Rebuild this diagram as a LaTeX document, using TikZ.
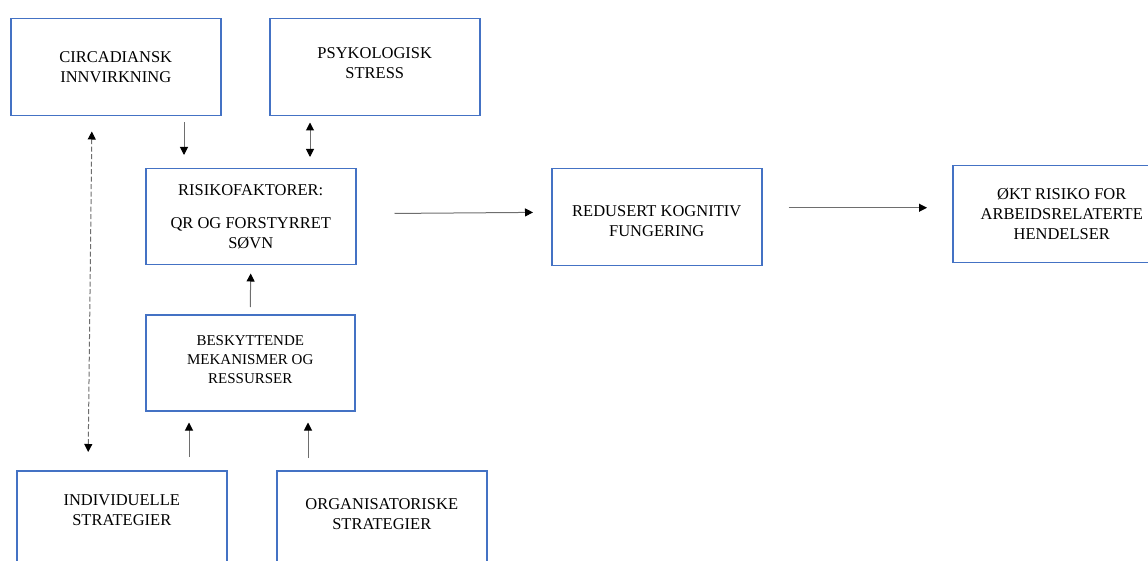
\documentclass[tikz,border=0pt]{standalone}
\usepackage{fontspec}
\setmainfont{Liberation Serif}
\usetikzlibrary{arrows.meta}
\definecolor{boxline}{HTML}{4472C4}
\definecolor{arrline}{HTML}{6E6E6E}

\tikzset{
    box/.style={draw=boxline, line width=1.5pt, inner sep=0pt, align=center,
        minimum width=210, minimum height=97, anchor=north west,
        font=\fontsize{16.5}{20}\selectfont},
    smallbox/.style={box, font=\fontsize{15}{19}\selectfont},
    arr/.style={draw=arrline, line width=1pt,
        -{Triangle[length=8pt,width=8pt,color=black]}},
    darr/.style={arr, {Triangle[length=8pt,width=8pt,color=black]}-{Triangle[length=8pt,width=8pt,color=black]}},
}

\begin{document}
\begin{tikzpicture}[x=1pt, y=-1pt]
        \useasboundingbox (0,0) rectangle (1148,561);
        \clip (0,0) rectangle (1148,561);
        % Nodes
        \node[box] (circ) at (10,18) {CIRCADIANSK\\INNVIRKNING};
        \node[box, text depth=9pt] (psyk) at (269,18) {PSYKOLOGISK\\STRESS};
        \node[box, minimum height=96] (risk) at (145,168) {RISIKOFAKTORER:\\[13pt] QR OG FORSTYRRET\\SØVN};
        \node[smallbox, minimum width=209, minimum height=96, text depth=6pt] (besk) at (145,314) {BESKYTTENDE\\MEKANISMER OG\\RESSURSER};
        \node[box, minimum width=218] (okt) at (952,165) {ØKT RISIKO FOR\\ARBEIDSRELATERTE\\HENDELSER};
        \node[box] (red) at (551,168) {\rule{0pt}{19.5pt}REDUSERT KOGNITIV\\FUNGERING};
        \node[box, text depth=19pt] (indiv) at (16,470) {INDIVIDUELLE\\STRATEGIER};
        \node[box, text depth=11pt] (organ) at (276,470) {ORGANISATORISKE\\STRATEGIER};
        % Arrows
        \path[arr, shorten <=6pt, shorten >=13pt] ([xshift=174]circ.south west) -- ([xshift=174]circ.south west |- risk.north);
        \path[darr, shorten <=6pt, shorten >=11pt] ([xshift=41]psyk.south west) -- ([xshift=41]psyk.south west |- risk.north);
        \path[darr, dash pattern=on 5pt off 2.5pt, shorten <=15pt, shorten >=18pt] ([xshift=82]circ.south west) -- ([xshift=72]indiv.north west);
        \path[arr, shorten <=7pt, shorten >=8pt] (besk.north) -- (risk.south);
        \path[arr, shorten <=13pt, shorten >=11pt] ([xshift=173]indiv.north west) -- ([xshift=173]indiv.north west |- besk.south);
        \path[arr, shorten <=12pt, shorten >=11pt] ([xshift=32]organ.north west) -- ([xshift=32]organ.north west |- besk.south);
        \path[arr, shorten <=38pt, shorten >=18pt] ([yshift=3]risk.east) -- ([yshift=5]red.west);
        \path[arr, shorten <=26pt, shorten >=25pt] ([yshift=9.5]red.east) -- ([yshift=6.5]okt.west);
    \end{tikzpicture}
\end{document}
